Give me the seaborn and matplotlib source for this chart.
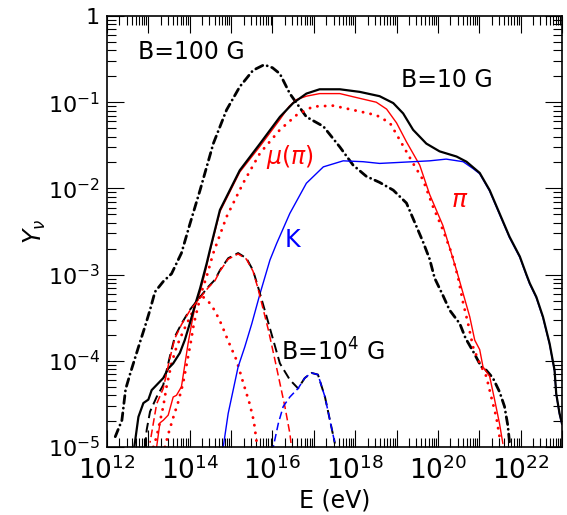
import numpy as np
import pandas as pd
import matplotlib
matplotlib.use("Agg")
import matplotlib.pyplot as plt
from matplotlib.ticker import LogLocator, FuncFormatter, NullFormatter
import seaborn as sns

sns.set_style("ticks")
plt.rcParams['font.family'] = ['DejaVu Sans']
plt.rcParams['mathtext.fontset'] = 'dejavusans'
for k in ['text.color', 'axes.labelcolor', 'xtick.color', 'ytick.color', 'axes.edgecolor']:
    plt.rcParams[k] = 'black'

# ---- data (log10 E [eV], log10 Y) ----
# B = 100 G, total (black dash-dot)
b100_logE = [12.20, 12.36, 12.45, 12.56, 12.80, 12.92, 13.04, 13.16, 13.36, 13.56, 13.80, 14.00,
             14.25, 14.57, 14.89, 15.21, 15.53, 15.80, 16.00, 16.18, 16.42, 16.82, 17.23, 17.63,
             17.95, 18.27, 18.59, 18.92, 19.24, 19.40, 19.64, 19.80, 19.92, 20.12, 20.28, 20.53,
             20.67, 20.85, 21.05, 21.17, 21.33, 21.49, 21.61, 21.69, 21.73]
b100_logY = [-4.88, -4.69, -4.33, -4.15, -3.78, -3.60, -3.41, -3.20, -3.08, -2.99, -2.75, -2.42,
             -2.02, -1.48, -1.09, -0.82, -0.63, -0.565, -0.60, -0.67, -0.90, -1.17, -1.28, -1.52,
             -1.73, -1.86, -1.93, -2.02, -2.17, -2.35, -2.62, -2.82, -3.04, -3.24, -3.41, -3.57,
             -3.74, -3.89, -4.07, -4.11, -4.20, -4.36, -4.53, -4.75, -4.94]

# B = 10 G, total (black solid)
b10_logE = [12.66, 12.76, 12.88, 13.00, 13.08, 13.20, 13.36, 13.48, 13.60, 13.76, 13.88, 14.00,
            14.13, 14.25, 14.41, 14.49, 14.73, 15.21, 15.70, 16.18, 16.50, 16.82, 17.14, 17.63,
            18.11, 18.59, 18.92, 19.16, 19.40, 19.72, 20.04, 20.45, 20.69, 21.01, 21.25, 21.49,
            21.73, 21.98, 22.14, 22.22, 22.38, 22.54, 22.70, 22.82, 22.86, 22.94, 23.00]
b10_logY = [-5.00, -4.65, -4.49, -4.45, -4.34, -4.28, -4.20, -4.09, -4.03, -3.91, -3.76, -3.57,
            -3.35, -3.16, -2.87, -2.71, -2.25, -1.79, -1.48, -1.17, -1.01, -0.90, -0.85, -0.85,
            -0.88, -0.93, -1.01, -1.13, -1.32, -1.48, -1.57, -1.63, -1.69, -1.82, -2.02, -2.29,
            -2.56, -2.79, -3.00, -3.10, -3.26, -3.49, -3.80, -4.11, -4.38, -4.61, -4.73]

# B = 10 G, pions (red solid)
pi10_logE = [13.20, 13.28, 13.36, 13.48, 13.56, 13.60, 13.68, 13.80, 13.88, 13.96, 14.05, 14.13,
             14.25, 14.37, 14.49, 14.73, 15.21, 15.70, 16.18, 16.40, 16.58, 16.82, 17.14, 17.63,
             18.11, 18.51, 18.76, 19.00, 19.24, 19.56, 19.80, 20.12, 20.45, 20.61, 20.77, 20.89,
             21.01, 21.09, 21.25, 21.37, 21.49, 21.57]
pi10_logY = [-5.00, -4.72, -4.69, -4.63, -4.49, -4.42, -4.40, -4.30, -4.05, -3.80, -3.56, -3.37,
             -3.20, -2.98, -2.73, -2.27, -1.81, -1.51, -1.20, -1.05, -0.97, -0.93, -0.90, -0.90,
             -0.955, -1.00, -1.08, -1.24, -1.46, -1.73, -2.07, -2.43, -2.95, -3.22, -3.49, -3.76,
             -3.87, -4.07, -4.18, -4.45, -4.73, -4.96]

# B = 10 G, muons from pions (red dotted)
mu10_logE = [13.40, 13.50, 13.60, 13.72, 13.84, 13.93, 14.02, 14.10, 14.20, 14.30, 14.41, 14.57,
             14.89, 15.29, 15.70, 16.18, 16.58, 16.98, 17.47, 17.95, 18.51, 18.84, 19.08, 19.40,
             19.64, 19.88, 20.12, 20.33, 20.49, 20.61, 20.73, 20.85, 21.01, 21.17, 21.29, 21.41,
             21.49]
mu10_logY = [-5.00, -4.82, -4.66, -4.48, -4.26, -4.03, -3.80, -3.57, -3.37, -3.18, -3.02, -2.75,
             -2.33, -1.94, -1.59, -1.32, -1.15, -1.05, -1.04, -1.09, -1.15, -1.24, -1.44, -1.71,
             -1.90, -2.21, -2.48, -2.75, -3.04, -3.33, -3.57, -3.84, -4.03, -4.18, -4.42, -4.65,
             -4.88]

# B = 10 G, kaons (blue solid)
k10_logE = [14.81, 14.93, 15.05, 15.17, 15.33, 15.50, 15.70, 15.94, 16.10, 16.42, 16.82, 17.23,
            17.71, 18.19, 18.59, 19.00, 19.40, 19.80, 20.20, 20.61, 20.85, 21.01, 21.25, 21.49,
            21.73, 21.98, 22.14, 22.22, 22.38, 22.54, 22.70, 22.82, 22.86, 22.94, 23.00]
k10_logY = [-5.00, -4.61, -4.34, -4.07, -3.84, -3.57, -3.22, -2.83, -2.64, -2.29, -1.94, -1.75,
            -1.68, -1.69, -1.71, -1.70, -1.69, -1.68, -1.66, -1.69, -1.77, -1.83, -2.03, -2.30,
            -2.57, -2.80, -3.01, -3.11, -3.27, -3.50, -3.81, -4.12, -4.39, -4.62, -4.74]

# B = 1e4 G, total (black dashed)
b1e4_logE = [12.92, 12.96, 13.04, 13.20, 13.36, 13.52, 13.64, 13.80, 14.00, 14.25, 14.45, 14.61,
             14.73, 14.93, 15.17, 15.37, 15.53, 15.65, 15.86, 16.02, 16.18, 16.42, 16.62, 16.78,
             16.94, 17.10, 17.27, 17.39, 17.51]
b1e4_logY = [-5.00, -4.80, -4.59, -4.42, -4.28, -3.95, -3.72, -3.57, -3.41, -3.26, -3.14, -3.06,
             -2.95, -2.81, -2.75, -2.81, -2.95, -3.14, -3.49, -3.76, -4.03, -4.22, -4.32, -4.20,
             -4.14, -4.16, -4.42, -4.69, -4.96]

# B = 1e4 G, pions (red dashed)
pi1e4_logE = [13.04, 13.20, 13.36, 13.52, 13.64, 13.80, 14.00, 14.25, 14.45, 14.61, 14.73, 14.93,
              15.17, 15.37, 15.53, 15.65, 15.90, 16.06, 16.18, 16.30, 16.42, 16.46]
pi1e4_logY = [-4.95, -4.50, -4.32, -3.97, -3.74, -3.58, -3.42, -3.27, -3.15, -3.07, -2.96, -2.82,
              -2.76, -2.82, -2.96, -3.16, -3.64, -3.99, -4.26, -4.53, -4.84, -5.00]

# B = 1e4 G, muons (red dotted)
mu1e4_logE = [13.12, 13.20, 13.36, 13.44, 13.56, 13.68, 13.84, 14.05, 14.20, 14.30, 14.45, 14.61,
              14.77, 14.93, 15.13, 15.29, 15.45, 15.55, 15.62]
mu1e4_logY = [-5.00, -4.88, -4.53, -4.30, -4.03, -3.84, -3.66, -3.45, -3.28, -3.25, -3.31, -3.42,
              -3.58, -3.77, -3.99, -4.25, -4.50, -4.70, -4.95]

# B = 1e4 G, kaons (blue dashed)
k1e4_logE = [16.02, 16.14, 16.26, 16.42, 16.62, 16.78, 16.94, 17.10, 17.27, 17.39, 17.51]
k1e4_logY = [-5.00, -4.73, -4.53, -4.42, -4.32, -4.20, -4.14, -4.16, -4.42, -4.69, -4.96]

x_tick_exps = [12, 14, 16, 18, 20, 22]

# ---- figure ----
fig = plt.figure(figsize=(5.67, 5.15), dpi=100)
ax = fig.add_axes([0.1887, 0.1320, 0.8025, 0.8369])


def curve(le, ly, **kw):
    df = pd.DataFrame({"E": 10 ** np.array(le), "Y": 10 ** np.array(ly)})
    sns.lineplot(data=df, x="E", y="Y", ax=ax, sort=False, estimator=None, legend=False, **kw)


RED = "#ff0000"
BLUE = "#0000ff"
dot = (0, (0.05, 2.6))

curve(b100_logE, b100_logY, color="black", lw=2.0, linestyle=(0, (2.8, 1.7, 0.05, 1.7)),
      dash_capstyle="round")
curve(mu10_logE, mu10_logY, color=RED, lw=2.1, linestyle=dot, dash_capstyle="round")
curve(mu1e4_logE, mu1e4_logY, color=RED, lw=2.1, linestyle=dot, dash_capstyle="round")
curve(pi10_logE, pi10_logY, color=RED, lw=1.0)
curve(k10_logE, k10_logY, color=BLUE, lw=1.0)
curve(b10_logE, b10_logY, color="black", lw=1.6)
curve(b1e4_logE, b1e4_logY, color="black", lw=1.4, linestyle=(0, (5, 2.5)))
curve(pi1e4_logE, pi1e4_logY, color=RED, lw=1.1, linestyle=(3.75, (5, 2.5)))
curve(k1e4_logE, k1e4_logY, color=BLUE, lw=1.1, linestyle=(3.75, (5, 2.5)))

ax.set_xscale("log")
ax.set_yscale("log")
ax.set_xlim(1e12, 1e23)
ax.set_ylim(1e-5, 1)

ax.xaxis.set_major_locator(LogLocator(base=10, numticks=50))
ax.xaxis.set_minor_locator(LogLocator(base=10, subs=np.arange(2, 10), numticks=200))
ax.yaxis.set_major_locator(LogLocator(base=10, numticks=50))
ax.yaxis.set_minor_locator(LogLocator(base=10, subs=np.arange(2, 10), numticks=200))


def xfmt(v, pos):
    e = int(round(np.log10(v)))
    return r"$10^{%d}$" % e if e in x_tick_exps else ""


def yfmt(v, pos):
    e = int(round(np.log10(v)))
    return "1" if e == 0 else r"$10^{%d}$" % e


ax.xaxis.set_major_formatter(FuncFormatter(xfmt))
ax.yaxis.set_major_formatter(FuncFormatter(yfmt))
ax.xaxis.set_minor_formatter(NullFormatter())
ax.yaxis.set_minor_formatter(NullFormatter())

ax.tick_params(which="both", direction="in", top=True, right=True, color="black",
               labelcolor="black", width=0.8)
ax.tick_params(which="major", length=12)
ax.tick_params(which="minor", length=6.5)
ax.tick_params(axis="x", which="major", labelsize=19, pad=7)
ax.tick_params(axis="y", which="major", labelsize=16, pad=5)
for s in ax.spines.values():
    s.set_linewidth(1.2)
    s.set_color("black")

ax.set_xlabel("E (eV)", fontsize=17, labelpad=2, color="black")
ax.set_ylabel(r"$Y_\nu$", fontsize=17, labelpad=0, color="black")

ax.text(10 ** 14.05, 10 ** -0.42, "B=100 G", fontsize=17, ha="center", va="center", color="black")
ax.text(10 ** 20.21, 10 ** -0.74, "B=10 G", fontsize=17, ha="center", va="center", color="black")
ax.text(10 ** 17.46, 10 ** -3.90, r"B=10$^4$ G", fontsize=17, ha="center", va="center", color="black")
ax.text(10 ** 16.42, 10 ** -1.64, r"$\mu(\pi)$", fontsize=17, ha="center", va="center", color=RED)
ax.text(10 ** 20.53, 10 ** -2.13, r"$\pi$", fontsize=18, ha="center", va="center", color=RED)
ax.text(10 ** 16.49, 10 ** -2.60, "K", fontsize=17, ha="center", va="center", color=BLUE)

fig.savefig("out.png", dpi=100)
